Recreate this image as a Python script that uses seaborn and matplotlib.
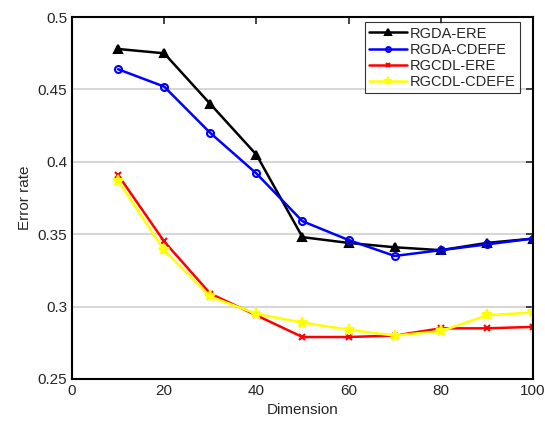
import matplotlib
matplotlib.use("Agg")
import matplotlib.pyplot as plt
from matplotlib.ticker import FormatStrFormatter, MultipleLocator
import seaborn as sns
import pandas as pd

# data
dims = [10, 20, 30, 40, 50, 60, 70, 80, 90, 100]
rgda_ere = [0.478, 0.475, 0.440, 0.405, 0.348, 0.344, 0.341, 0.339, 0.344, 0.347]
rgda_cdefe = [0.464, 0.452, 0.420, 0.392, 0.359, 0.346, 0.335, 0.339, 0.343, 0.347]
rgcdl_ere = [0.391, 0.345, 0.309, 0.294, 0.279, 0.279, 0.280, 0.285, 0.285, 0.286]
rgcdl_cdefe = [0.387, 0.339, 0.307, 0.295, 0.289, 0.284, 0.280, 0.283, 0.294, 0.296]

series_names = ["RGDA-ERE", "RGDA-CDEFE", "RGCDL-ERE", "RGCDL-CDEFE"]
series_vals = [rgda_ere, rgda_cdefe, rgcdl_ere, rgcdl_cdefe]
colors = ["black", "blue", "red", "yellow"]
markers = ["^", "o", "x", "*"]
msizes = [6, 5, 5, 8]

sns.set_style("white")
plt.rcParams['font.family'] = ['Liberation Sans', 'DejaVu Sans']

df = pd.DataFrame({
    "Dimension": dims * len(series_names),
    "Error rate": sum(series_vals, []),
    "method": sum([[n] * len(dims) for n in series_names], []),
})

fig = plt.figure(figsize=(5.45, 4.28), dpi=100)
ax = fig.add_axes([0.132, 0.1145, 0.846, 0.8455])

for name, col, mk, ms in zip(series_names, colors, markers, msizes):
    sub = df[df["method"] == name]
    face = "none" if mk == "o" else col
    sns.lineplot(data=sub, x="Dimension", y="Error rate", ax=ax, color=col,
                 marker=mk, markersize=ms, markerfacecolor=face,
                 markeredgecolor=col, markeredgewidth=1.5, linewidth=1.8,
                 label=name)

ax.set_xlim(0, 100)
ax.set_ylim(0.25, 0.5)
ax.xaxis.set_major_locator(MultipleLocator(20))
ax.yaxis.set_major_locator(MultipleLocator(0.05))
ax.yaxis.set_major_formatter(FormatStrFormatter('%g'))
ax.yaxis.grid(True, color="#d0d0d0", linewidth=1.2)
ax.set_axisbelow(True)
ax.tick_params(direction="in", top=True, right=True, length=5, width=1.2,
               labelsize=11)
for sp in ax.spines.values():
    sp.set_linewidth(1.5)
    sp.set_color("black")
ax.set_xlabel("Dimension", fontsize=11)
ax.set_ylabel("Error rate", fontsize=11)

leg = ax.legend(loc="upper right", fancybox=False, edgecolor="black",
                fontsize=10.5, handlelength=2.6, handletextpad=0.2,
                borderpad=0.3, labelspacing=0.15, markerscale=0.7,
                borderaxespad=0, bbox_to_anchor=(0.972, 0.986))
leg.get_frame().set_linewidth(0.8)

fig.savefig("out.png", dpi=100)
